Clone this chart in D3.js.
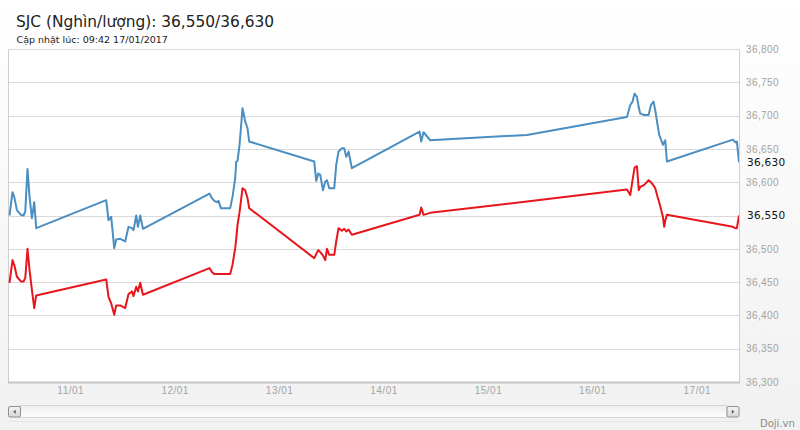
<!DOCTYPE html>
<html>
<head>
<meta charset="utf-8">
<script src="https://cdn.jsdelivr.net/npm/d3@7/dist/d3.min.js"></script>
<style>
  html, body { margin: 0; padding: 0; background: #f6f6f6; }
  svg { display: block; font-family: "DejaVu Sans", Verdana, sans-serif; }
</style>
</head>
<body>
<svg id="chart" width="800" height="430"></svg>
<script>
// ---------- DATA ----------
const titleText = "SJC (Nghìn/lượng): 36,550/36,630";
const updatedText = "Cập nhật lúc: 09:42 17/01/2017";
const sourceText = "Doji.vn";
const domainStart = "2017-01-10 09:42";
const domainEnd = "2017-01-17 09:42";

const times = [
  "2017-01-10 10:03","2017-01-10 10:44","2017-01-10 11:08","2017-01-10 11:45","2017-01-10 12:40","2017-01-10 13:16",
  "2017-01-10 13:40","2017-01-10 14:11","2017-01-10 14:39","2017-01-10 15:12","2017-01-10 15:44","2017-01-10 16:11",
  "2017-01-11 08:16","2017-01-11 08:48","2017-01-11 09:25","2017-01-11 10:07","2017-01-11 10:34","2017-01-11 11:29",
  "2017-01-11 12:38","2017-01-11 13:24","2017-01-11 14:11","2017-01-11 14:33","2017-01-11 15:10","2017-01-11 15:34",
  "2017-01-11 16:05","2017-01-11 16:43",
  "2017-01-12 08:01","2017-01-12 08:34","2017-01-12 09:06","2017-01-12 09:43","2017-01-12 10:05","2017-01-12 10:38",
  "2017-01-12 12:46","2017-01-12 13:18","2017-01-12 13:55","2017-01-12 14:09","2017-01-12 14:27","2017-01-12 14:55",
  "2017-01-12 15:36","2017-01-12 16:13","2017-01-12 16:45","2017-01-12 17:08",
  "2017-01-13 08:05","2017-01-13 08:32","2017-01-13 09:00","2017-01-13 09:28","2017-01-13 10:05","2017-01-13 10:37",
  "2017-01-13 11:00","2017-01-13 11:32","2017-01-13 12:41","2017-01-13 13:08","2017-01-13 13:40","2017-01-13 14:27",
  "2017-01-13 14:58","2017-01-13 15:26","2017-01-13 15:58","2017-01-13 16:44",
  "2017-01-14 08:17","2017-01-14 08:40","2017-01-14 09:12","2017-01-14 10:44",
  "2017-01-15 08:58",
  "2017-01-16 07:57","2017-01-16 08:43","2017-01-16 09:14","2017-01-16 09:42","2017-01-16 10:15","2017-01-16 10:40",
  "2017-01-16 11:00","2017-01-16 11:55","2017-01-16 12:55","2017-01-16 13:28","2017-01-16 14:04","2017-01-16 14:27",
  "2017-01-16 14:59","2017-01-16 15:22","2017-01-16 15:50","2017-01-16 16:13","2017-01-16 16:31","2017-01-16 16:45",
  "2017-01-16 17:08",
  "2017-01-17 08:18","2017-01-17 08:50","2017-01-17 09:13","2017-01-17 09:42"
];

// Bán ra (sell) - blue
const sellValues = [
  36550,36585,36578,36558,36551,36550,36556,36620,36578,36546,36570,36531,
  36573,36543,36548,36501,36514,36515,36511,36533,36531,36528,36550,36533,36550,36530,
  36583,36576,36572,36570,36572,36561,36561,36578,36606,36631,36632,36656,36711,36691,36681,36661,
  36631,36602,36613,36611,36588,36601,36603,36591,36591,36626,36646,36651,36651,36638,36646,36621,
  36676,36661,36675,36663,
  36671,
  36698,36716,36721,36733,36728,36712,36703,36701,36701,36716,36721,36708,36686,36671,36663,36656,36660,36663,36631,
  36664,36660,36661,36630
];

// Mua vào (buy) - red
const buyValues = [
  36449,36483,36476,36458,36451,36451,36456,36500,36468,36438,36411,36430,
  36454,36428,36418,36401,36415,36415,36411,36432,36436,36429,36443,36436,36449,36431,
  36471,36465,36462,36462,36462,36462,36462,36476,36501,36515,36536,36555,36591,36588,36576,36561,
  36486,36492,36498,36495,36490,36483,36500,36491,36491,36511,36531,36527,36530,36526,36529,36521,
  36551,36562,36551,36554,
  36571,
  36589,36581,36603,36622,36624,36588,36593,36596,36603,36600,36595,36591,36578,36570,36558,36548,36533,36542,36551,
  36533,36531,36531,36550
];

const yTicks = [36300,36350,36400,36450,36500,36550,36600,36650,36700,36750,36800];
const xTickDates = ["2017-01-11","2017-01-12","2017-01-13","2017-01-14","2017-01-15","2017-01-16","2017-01-17"];

// ---------- CHART ----------
const svg = d3.select("#chart");
const W = 800, H = 430;
const plot = {left: 8, right: 739, top: 49, bottom: 382};

const parseT = d3.timeParse("%Y-%m-%d %H:%M");
const parseD = d3.timeParse("%Y-%m-%d");

const x = d3.scaleTime()
  .domain([parseT(domainStart), parseT(domainEnd)])
  .range([plot.left, plot.right]);
const y = d3.scaleLinear()
  .domain([d3.min(yTicks), d3.max(yTicks)])
  .range([plot.bottom, plot.top]);

// background
const defs = svg.append("defs");
const bg = defs.append("linearGradient").attr("id","bg").attr("x1",0).attr("y1",0).attr("x2",0).attr("y2",1);
bg.append("stop").attr("offset","0%").attr("stop-color","#ffffff");
bg.append("stop").attr("offset","100%").attr("stop-color","#f1f1f1");
svg.append("rect").attr("width",W).attr("height",H).attr("fill","url(#bg)");

const sb = defs.append("linearGradient").attr("id","sbg").attr("x1",0).attr("y1",0).attr("x2",0).attr("y2",1);
sb.append("stop").attr("offset","0%").attr("stop-color","#eeeeee");
sb.append("stop").attr("offset","100%").attr("stop-color","#fdfdfd");
const btn = defs.append("linearGradient").attr("id","btn").attr("x1",0).attr("y1",0).attr("x2",0).attr("y2",1);
btn.append("stop").attr("offset","0%").attr("stop-color","#f4f4f4");
btn.append("stop").attr("offset","100%").attr("stop-color","#d6d6d6");

defs.append("clipPath").attr("id","clip").append("rect")
  .attr("x",plot.left).attr("y",plot.top - 2)
  .attr("width",plot.right - plot.left).attr("height",plot.bottom - plot.top + 4);

// plot area
svg.append("rect")
  .attr("x",plot.left).attr("y",plot.top)
  .attr("width",plot.right - plot.left).attr("height",plot.bottom - plot.top)
  .attr("fill","#ffffff");

// grid
svg.append("g").selectAll("line").data(yTicks).join("line")
  .attr("x1",plot.left).attr("x2",plot.right)
  .attr("y1",d => Math.round(y(d)) + 0.5).attr("y2",d => Math.round(y(d)) + 0.5)
  .attr("stroke","#d9d9d9").attr("stroke-width",1);

// borders
svg.append("line").attr("x1",plot.left+0.5).attr("x2",plot.left+0.5).attr("y1",plot.top).attr("y2",plot.bottom)
  .attr("stroke","#cfcfcf");
svg.append("line").attr("x1",plot.right+0.5).attr("x2",plot.right+0.5).attr("y1",plot.top).attr("y2",plot.bottom)
  .attr("stroke","#cfcfcf");
svg.append("line").attr("x1",plot.left).attr("x2",plot.right+1).attr("y1",plot.bottom+0.5).attr("y2",plot.bottom+0.5)
  .attr("stroke","#c4c4c4").attr("stroke-width",2);

// series
const sellData = times.map((t,i) => ({t: parseT(t), v: sellValues[i]}));
const buyData = times.map((t,i) => ({t: parseT(t), v: buyValues[i]}));
const line = d3.line().x(d => x(d.t)).y(d => y(d.v));

const lines = svg.append("g").attr("clip-path","url(#clip)");
lines.append("path").datum(sellData).attr("d",line)
  .attr("fill","none").attr("stroke","#4b8ec1").attr("stroke-width",2).attr("stroke-linejoin","round");
lines.append("path").datum(buyData).attr("d",line)
  .attr("fill","none").attr("stroke","#e8161c").attr("stroke-width",2).attr("stroke-linejoin","round");

// current values
const lastSell = sellValues[sellValues.length-1];
const lastBuy = buyValues[buyValues.length-1];
const fmt = d3.format(",");

// y axis (right)
const yAxis = d3.axisRight(y).tickValues(yTicks).tickSize(0).tickPadding(7).tickFormat(fmt);
const gy = svg.append("g").attr("transform",`translate(${plot.right},0)`).call(yAxis);
gy.select(".domain").remove();
gy.selectAll("text")
  .attr("fill","#a3a3a3").style("font-size","10px").style("letter-spacing","0.4px")
  .style("display", d => (d === lastSell || d === lastBuy) ? "none" : null);

svg.append("g").selectAll("text").data([lastSell, lastBuy]).join("text")
  .attr("x",plot.right + 8).attr("y",d => y(d)).attr("dy","0.35em")
  .attr("fill","#111").style("font-size","10.5px").style("letter-spacing","0.3px")
  .text(d => fmt(d));

// x axis
const xAxis = d3.axisBottom(x).tickValues(xTickDates.map(parseD)).tickSize(0).tickPadding(5)
  .tickFormat(d3.timeFormat("%d/%m"));
const gx = svg.append("g").attr("transform",`translate(0,${plot.bottom})`).call(xAxis);
gx.select(".domain").remove();
gx.selectAll("text").attr("fill","#a3a3a3").style("font-size","10px").style("letter-spacing","0.5px");

// titles
svg.append("text").attr("x",16).attr("y",26.5).attr("fill","#222")
  .style("font-size","15.4px").text(titleText);
svg.append("text").attr("x",16.5).attr("y",43).attr("fill","#222")
  .style("font-size","9.5px").text(updatedText);

// scrollbar
const sbTop = 405, sbH = 12;
svg.append("rect").attr("x",plot.left + 12).attr("y",sbTop + 0.5)
  .attr("width",plot.right - plot.left - 24).attr("height",sbH)
  .attr("fill","url(#sbg)").attr("stroke","#d4d4d4").attr("stroke-width",1);
[{x: plot.left, dir: -1}, {x: plot.right - 12.5, dir: 1}].forEach(b => {
  svg.append("rect").attr("x",b.x + 0.5).attr("y",sbTop + 1.5).attr("width",12).attr("height",10.5)
    .attr("rx",1.5).attr("fill","url(#btn)").attr("stroke","#8e8e8e").attr("stroke-width",1);
  const cx = b.x + 6.5, cy = sbTop + 6.75;
  svg.append("path")
    .attr("d", b.dir < 0
      ? `M${cx+1.2},${cy-2}L${cx-1.3},${cy}L${cx+1.2},${cy+2}Z`
      : `M${cx-1.2},${cy-2}L${cx+1.3},${cy}L${cx-1.2},${cy+2}Z`)
    .attr("fill","#555");
});
svg.append("line").attr("x1",plot.left).attr("x2",plot.right).attr("y1",421.5).attr("y2",421.5)
  .attr("stroke","#e6e6e6");

// source
svg.append("text").attr("x",760).attr("y",427).attr("fill","#8a8a8a")
  .style("font-size","10px").text(sourceText);
</script>
</body>
</html>
